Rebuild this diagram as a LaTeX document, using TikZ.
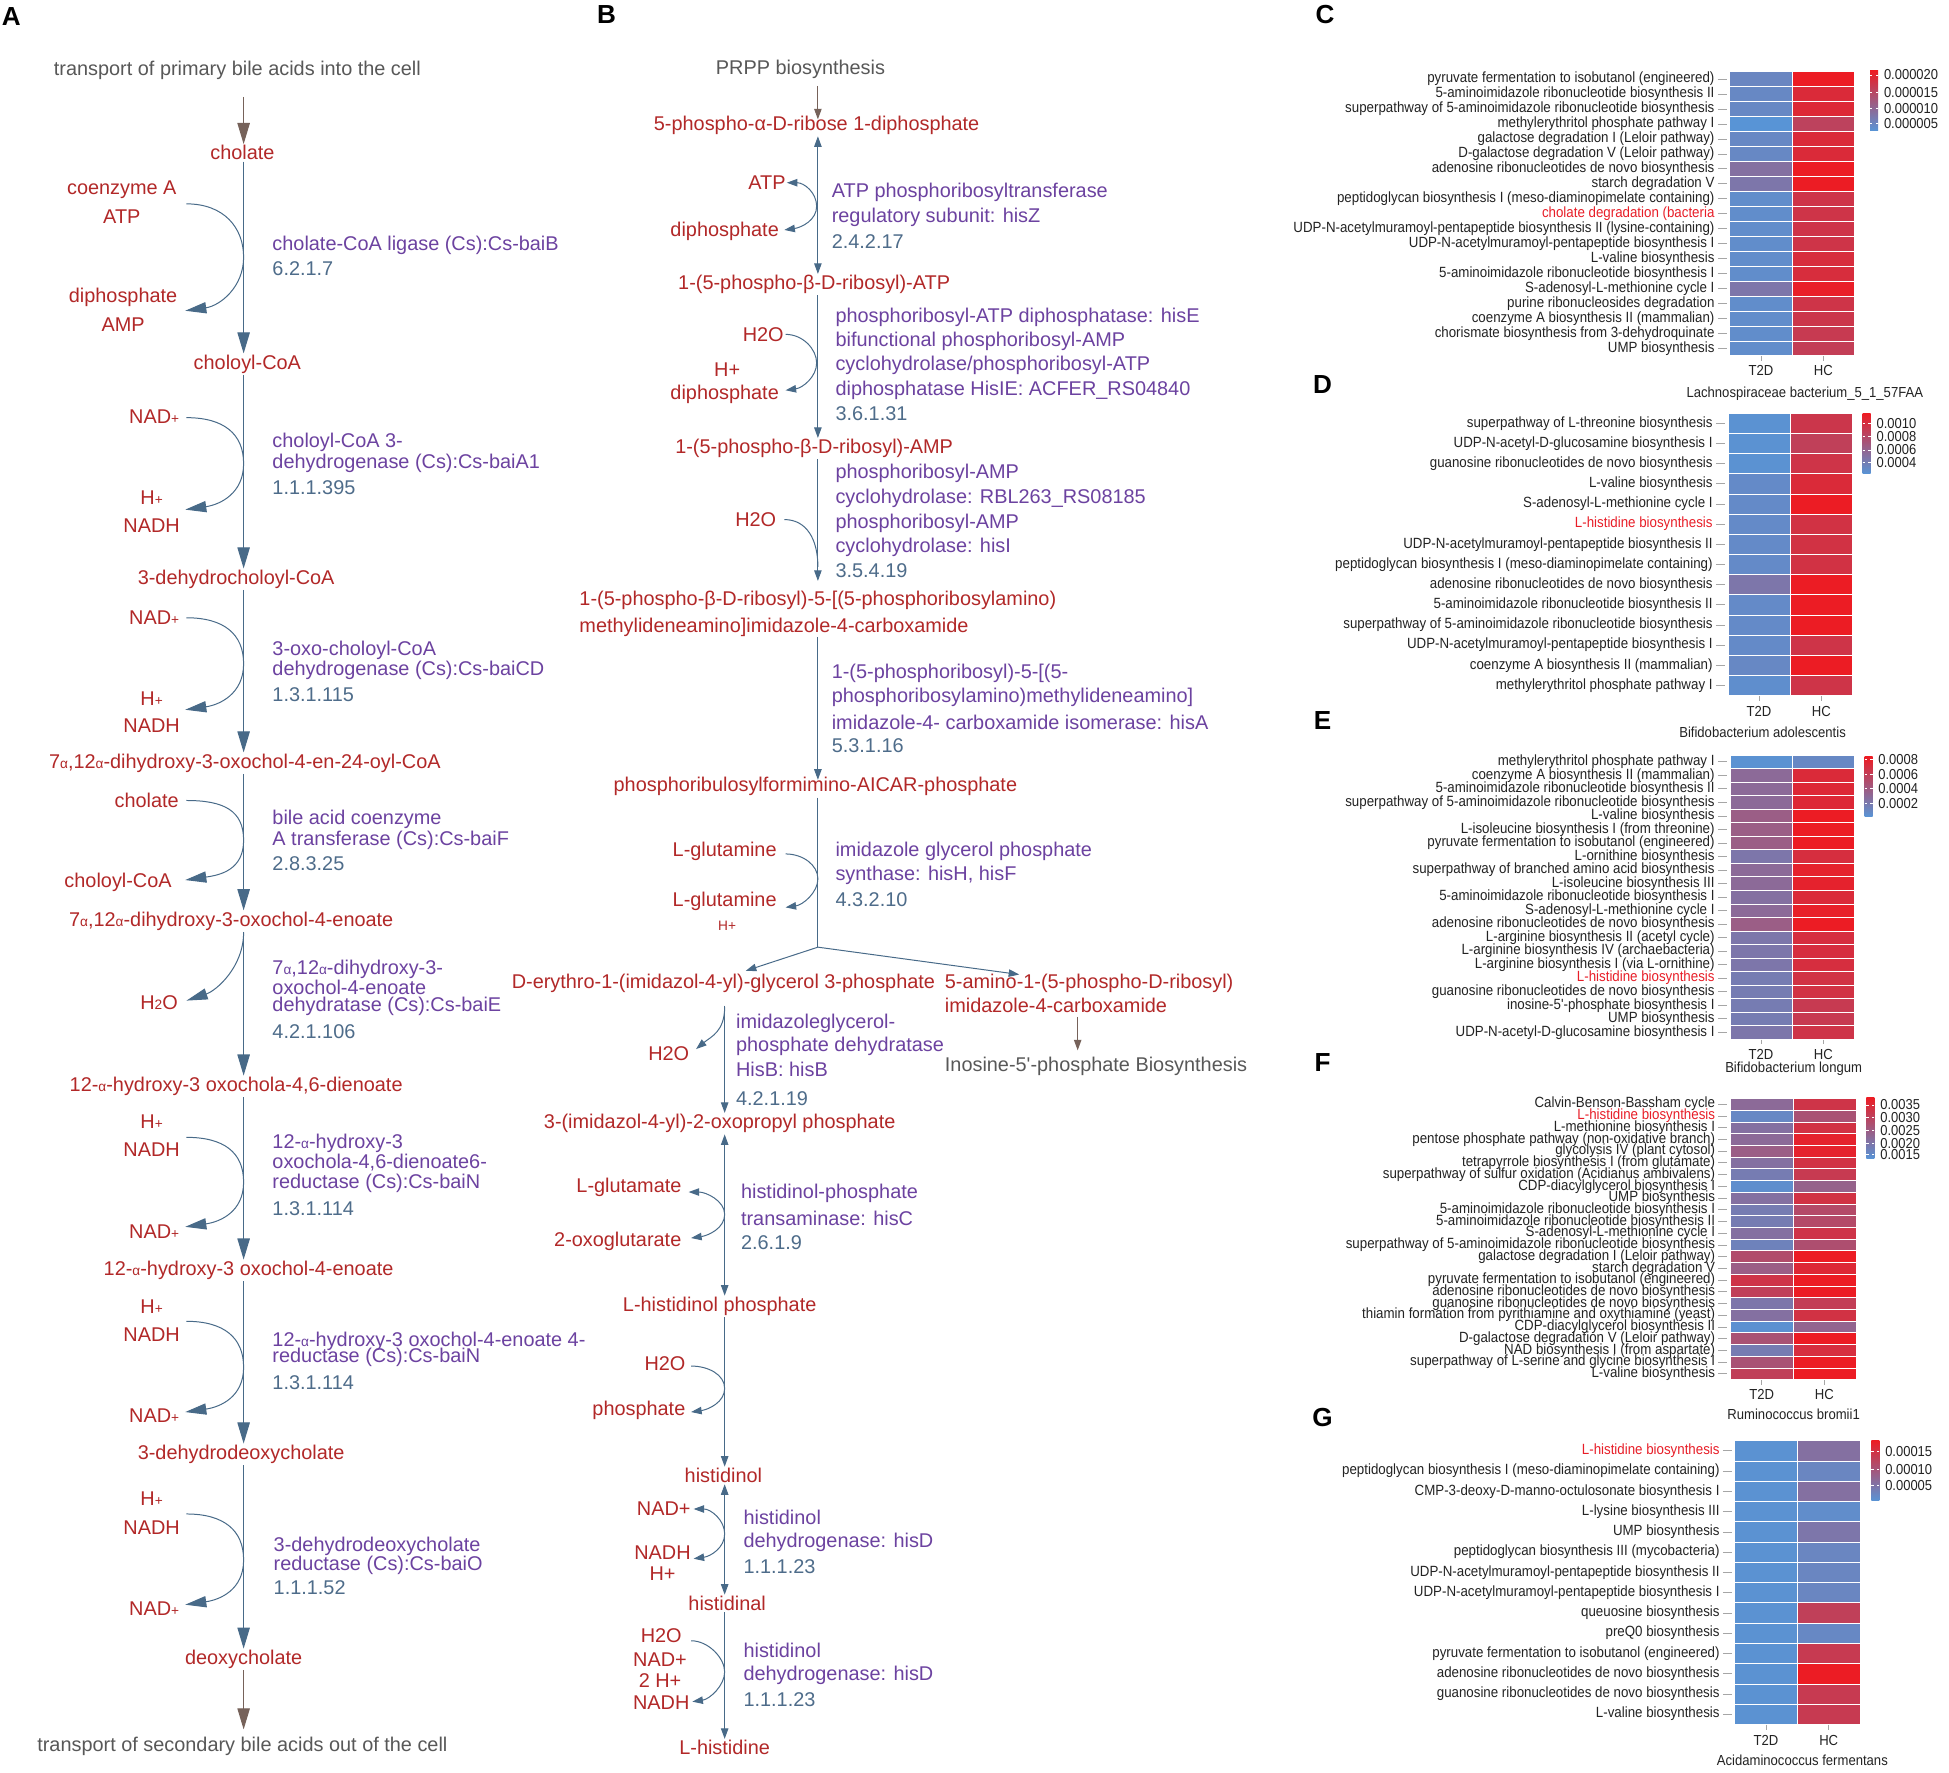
\documentclass[tikz,border=0pt]{standalone}
\usepackage{fontspec}
\setmainfont{Liberation Sans}
\newfontfamily\hmfont[FakeStretch=0.9]{Liberation Sans}
\newfontfamily\plainsans{Liberation Sans}
\usetikzlibrary{arrows.meta}
\definecolor{cred}{RGB}{178,40,40}
\definecolor{cpur}{RGB}{108,66,160}
\definecolor{cec}{RGB}{78,108,138}
\definecolor{cgray}{RGB}{88,88,88}
\definecolor{cline}{RGB}{72,106,136}
\definecolor{cbrown}{RGB}{118,98,90}
\definecolor{hb}{RGB}{88,148,214}
\definecolor{hr}{RGB}{236,28,36}
\definecolor{hmt}{RGB}{35,35,35}
\definecolor{hmr}{RGB}{232,30,40}
\newcommand{\fsz}[1]{\fontsize{#1}{#1}\selectfont}
\newcommand{\smtxt}[1]{{\fontsize{11}{11}\selectfont #1}}
\tikzset{
  met/.style={text=cred, font=\fsz{16}, inner sep=1pt},
  metw/.style={text=cred, font=\fsz{16}, inner sep=0pt, anchor=west},
  gtx/.style={text=cgray, font=\fsz{16}, inner sep=1pt},
  enz/.style={text=cpur, font=\fsz{16}, anchor=west, inner sep=0pt},
  ecn/.style={text=cec, font=\fsz{16}, anchor=west, inner sep=0pt},
  plab/.style={font=\fsz{21}\bfseries, inner sep=0pt},
  marr/.style={draw=cline, line width=0.9pt, -{Triangle[length=17pt,width=10pt]}},
  brarr/.style={draw=cbrown, line width=0.9pt, -{Triangle[length=17pt,width=10pt]}},
  sarc/.style={draw=cline, line width=0.8pt, -{Triangle[length=17pt,width=9pt]}},
  barr/.style={draw=cline, line width=0.8pt, -{Triangle[length=8.5pt,width=6pt]}},
  barr2/.style={draw=cline, line width=0.8pt, {Triangle[length=8.5pt,width=6pt]}-{Triangle[length=8.5pt,width=6pt]}},
  bline/.style={draw=cline, line width=0.8pt},
  bbrarr/.style={draw=cbrown, line width=0.8pt, -{Triangle[length=8.5pt,width=6pt]}},
  hml/.style={font=\hmfont\fsz{11.9}, anchor=east, inner sep=0pt},
  hlg/.style={font=\hmfont\fsz{11.6}, text=hmt, anchor=west, inner sep=0pt},
  hcl/.style={font=\hmfont\fsz{11.7}, text=hmt, inner sep=0pt},
  tickc/.style={draw=black!35, line width=0.5pt}
}
\newcommand{\arcA}[4]{\coordinate (#1s) at (#2); \coordinate (#1m) at (#3); \coordinate (#1e) at (#4);
  \draw[sarc] (#1s) .. controls +(30,0) and +(0,-24) .. (#1m) .. controls +(0,24) and +(28,-4) .. (#1e);}
\newcommand{\arcB}[5]{\coordinate (#1s) at (#2); \coordinate (#1m) at (#3); \coordinate (#1e) at (#4);
  \draw[#5] (#1s) .. controls +(14,0) and +(0,-11) .. (#1m) .. controls +(0,11) and +(14,-2) .. (#1e);}
\newcommand{\hmap}[6]{%
  \foreach \lab/\va/\vb/\lc [count=\i] in {#6} {
    \pgfmathsetmacro{\yt}{#3+(\i-1)*#4}
    \pgfmathsetmacro{\ym}{#3+(\i-0.5)*#4}
    \filldraw[fill=hr!\va!hb, draw=white, line width=0.4pt] (#2,\yt) rectangle ++(#5,#4);
    \filldraw[fill=hr!\vb!hb, draw=white, line width=0.4pt] ({#2+#5},\yt) rectangle ++(#5,#4);
    \draw[tickc] ({#2-9.5},\ym) -- ({#2-2.5},\ym);
    \node[hml, text=\lc] (#1l\i) at ({#2-12},\ym) {\lab};
  }%
}
\newcommand{\hleg}[5]{%
  \shade[bottom color=hb, top color=hr] (#2,#3) rectangle ({#2+6.5},#4);
  \foreach \lv/\ly [count=\j] in {#5} {
    \draw[white, line width=0.7pt] (#2,\ly) -- ++(1.8,0);
    \draw[white, line width=0.7pt] ({#2+6.5},\ly) -- ++(-1.8,0);
    \node[hlg] (#1g\j) at ({#2+11},\ly) {\lv};
  }%
}
\newcommand{\hcols}[6]{%
  \draw[tickc] ({#2+#4/2},{#3+0.5}) -- ++(0,4);
  \draw[tickc] ({#2+1.5*#4},{#3+0.5}) -- ++(0,4);
  \node[hcl] (#1t) at ({#2+#4/2},#5) {T2D};
  \node[hcl] (#1h) at ({#2+1.5*#4},#5) {HC};
}
\begin{document}
\begin{tikzpicture}[x=1pt,y=-1pt]
\fill[white] (0,0) rectangle (1568,1426);
\useasboundingbox (0,0) rectangle (1568,1426);
% ---------------- Panel labels
\node[plab] (labA) at (9,13) {A};
\node[plab] (labB) at (488,12) {B};
\node[plab] (labC) at (1066,12) {C};
\node[plab] (labD) at (1064,309) {D};
\node[plab] (labE) at (1064,580) {E};
\node[plab] (labF) at (1064,855) {F};
\node[plab] (labG) at (1064,1140) {G};
% ---------------- Panel A
\coordinate (xA) at (196,0);
\node[gtx] (tA1) at (191,57) {transport of primary bile acids into the cell};
\node[met] (a0) at (195,123) {cholate};
\node[met] (a1) at (199,293) {choloyl-CoA};
\node[met] (a2) at (190,466) {3-dehydrocholoyl-CoA};
\node[met] (a3) at (197,614) {7\smtxt{α},12\smtxt{α}-dihydroxy-3-oxochol-4-en-24-oyl-CoA};
\node[met] (a4) at (186,741) {7\smtxt{α},12\smtxt{α}-dihydroxy-3-oxochol-4-enoate};
\node[met] (a5) at (190,874) {12-\smtxt{α}-hydroxy-3 oxochola-4,6-dienoate};
\node[met] (a6) at (200,1022) {12-\smtxt{α}-hydroxy-3 oxochol-4-enoate};
\node[met] (a7) at (194,1170) {3-dehydrodeoxycholate};
\node[met] (a8) at (196,1335) {deoxycholate};
\node[gtx] (tA2) at (195,1405) {transport of secondary bile acids out of the cell};
\coordinate (bA1) at (196,78);
\draw[brarr] (bA1) -- (a0.north -| xA);
\draw[brarr, shorten >=5pt] (a8.south -| xA) -- (tA2.north -| xA);
\foreach \p/\q in {a0/a1,a1/a2,a2/a3,a3/a4,a4/a5,a5/a6,a6/a7,a7/a8}
  \draw[marr] (\p.south -| xA) -- (\q.north -| xA);
% side metabolites
\node[met] (s1a) at (98,153) {coenzyme A};
\node[met] (s1b) at (98,174) {ATP};
\node[met] (s1c) at (99,239) {diphosphate};
\node[met] (s1d) at (99,261) {AMP};
\node[met] (s2a) at (124,335) {NAD\smtxt{+}};
\node[met] (s2b) at (122,400) {H\smtxt{+}};
\node[met] (s2c) at (122,423) {NADH};
\node[met] (s3a) at (124,497) {NAD\smtxt{+}};
\node[met] (s3b) at (122,562) {H\smtxt{+}};
\node[met] (s3c) at (122,584) {NADH};
\node[met] (s4a) at (118,644) {cholate};
\node[met] (s4b) at (95,710) {choloyl-CoA};
\node[met] (s5a) at (128,807) {H\smtxt{2}O};
\node[met] (s6a) at (122,902) {H\smtxt{+}};
\node[met] (s6b) at (122,925) {NADH};
\node[met] (s6c) at (124,991) {NAD\smtxt{+}};
\node[met] (s7a) at (122,1051) {H\smtxt{+}};
\node[met] (s7b) at (122,1074) {NADH};
\node[met] (s7c) at (124,1139) {NAD\smtxt{+}};
\node[met] (s8a) at (122,1206) {H\smtxt{+}};
\node[met] (s8b) at (122,1229) {NADH};
\node[met] (s8c) at (124,1294) {NAD\smtxt{+}};
\arcA{c1}{150,164}{196,207}{149,250}
\arcA{c2}{150,336}{196,373}{149,410}
\arcA{c3}{150,497}{196,534}{149,571}
\arcA{c4}{150,644}{196,676}{149,708}
\coordinate (c5s) at (196,750); \coordinate (c5e) at (150,805);
\draw[sarc] (c5s) .. controls +(0,28) and +(24,-8) .. (c5e);
\arcA{c6}{150,915}{196,951}{149,987}
\arcA{c7}{150,1063}{196,1100}{149,1136}
\arcA{c8}{150,1218}{196,1255}{149,1291}
% enzymes A
\node[enz] (e1a) at (219,197) {cholate-CoA ligase (Cs):Cs-baiB};
\node[ecn] (e1b) at (219,216) {6.2.1.7};
\node[enz] (e2a) at (219,356) {choloyl-CoA 3-};
\node[enz] (e2b) at (219,373) {dehydrogenase (Cs):Cs-baiA1};
\node[ecn] (e2c) at (219,392) {1.1.1.395};
\node[enz] (e3a) at (219,523) {3-oxo-choloyl-CoA};
\node[enz] (e3b) at (219,539) {dehydrogenase (Cs):Cs-baiCD};
\node[ecn] (e3c) at (219,559) {1.3.1.115};
\node[enz] (e4a) at (219,659) {bile acid coenzyme};
\node[enz] (e4b) at (219,676) {A transferase (Cs):Cs-baiF};
\node[ecn] (e4c) at (219,695) {2.8.3.25};
\node[enz] (e5a) at (219,780) {7\smtxt{α},12\smtxt{α}-dihydroxy-3-};
\node[enz] (e5b) at (219,794) {oxochol-4-enoate};
\node[enz] (e5c) at (219,810) {dehydratase (Cs):Cs-baiE};
\node[ecn] (e5d) at (219,830) {4.2.1.106};
\node[enz] (e6a) at (219,920) {12-\smtxt{α}-hydroxy-3};
\node[enz] (e6b) at (219,935) {oxochola-4,6-dienoate6-};
\node[enz] (e6c) at (219,952) {reductase (Cs):Cs-baiN};
\node[ecn] (e6d) at (219,972) {1.3.1.114};
\node[enz] (e7a) at (219,1079) {12-\smtxt{α}-hydroxy-3 oxochol-4-enoate 4-};
\node[enz] (e7b) at (219,1092) {reductase (Cs):Cs-baiN};
\node[ecn] (e7c) at (219,1112) {1.3.1.114};
\node[enz] (e8a) at (220,1244) {3-dehydrodeoxycholate};
\node[enz] (e8b) at (220,1259) {reductase (Cs):Cs-baiO};
\node[ecn] (e8c) at (220,1277) {1.1.1.52};
% ---------------- Panel B
\coordinate (xB) at (658,0);
\coordinate (xB2) at (583,0);
\node[gtx] (prpp) at (644,56) {PRPP biosynthesis};
\node[met] (n1) at (657,101) {5-phospho-α-D-ribose 1-diphosphate};
\node[met] (n2) at (655,229) {1-(5-phospho-β-D-ribosyl)-ATP};
\node[met] (n3) at (655,361) {1-(5-phospho-β-D-ribosyl)-AMP};
\node[metw] (n4a) at (466,483) {1-(5-phospho-β-D-ribosyl)-5-[(5-phosphoribosylamino)};
\node[metw] (n4b) at (466,505) {methylideneamino]imidazole-4-carboxamide};
\node[met] (n5) at (656,633) {phosphoribulosylformimino-AICAR-phosphate};
\node[met] (n6) at (582,791) {D-erythro-1-(imidazol-4-yl)-glycerol 3-phosphate};
\node[metw] (n7a) at (760,791) {5-amino-1-(5-phospho-D-ribosyl)};
\node[metw] (n7b) at (760,809) {imidazole-4-carboxamide};
\node[gtx, anchor=west, inner sep=0pt] (imp) at (760,858) {Inosine-5{\plainsans'}-phosphate Biosynthesis};
\node[met] (n8) at (579,904) {3-(imidazol-4-yl)-2-oxopropyl phosphate};
\node[met] (n9) at (579,1051) {L-histidinol phosphate};
\node[met] (n10) at (582,1187) {histidinol};
\node[met] (n11) at (585,1290) {histidinal};
\node[met] (n12) at (583,1406) {L-histidine};
% B main arrows
\coordinate (bB1) at (658,69); \coordinate (bB2) at (658,96);
\draw[bbrarr] (bB1) -- (bB2);
\draw[barr2] (n1.south -| xB) -- (n2.north -| xB);
\draw[barr] (n2.south -| xB) -- (n3.north -| xB);
\draw[barr, shorten >=8pt] (n3.south -| xB) -- (n4a.north -| xB);
\draw[barr, shorten >=-3pt] (n4b.south -| xB) -- (n5.north -| xB);
\coordinate (brB) at (658,762); \coordinate (brL) at (600,781); \coordinate (brR) at (820,784);
\draw[bline] (n5.south -| xB) -- (brB);
\draw[barr] (brB) -- (brL);
\draw[barr] (brB) -- (brR);
\coordinate (imA) at (867,818); \coordinate (imB) at (867,845);
\draw[bbrarr] (imA) -- (imB);
\coordinate (n6b) at (583,809);
\draw[barr] (n6b) -- (n8.north -| xB2);
\draw[barr2] (n8.south -| xB2) -- (n9.north -| xB2);
\draw[barr] (n9.south -| xB2) -- (n10.north -| xB2);
\draw[barr2] (n10.south -| xB2) -- (n11.north -| xB2);
\draw[barr] (n11.south -| xB2) -- (n12.north -| xB2);
% B side metabolites
\node[met] (b1a) at (617,147) {ATP};
\node[met] (b1b) at (583,186) {diphosphate};
\node[met] (b2a) at (614,269) {H2O};
\node[met] (b2b) at (585,297) {H+};
\node[met] (b2c) at (583,317) {diphosphate};
\node[met] (b3a) at (608,418) {H2O};
\node[met] (b5a) at (583,685) {L-glutamine};
\node[met] (b5b) at (583,725) {L-glutamine};
\node[met, font=\fsz{11}] (b5c) at (585,745) {H+};
\node[met] (b6a) at (538,848) {H2O};
\node[met] (b8a) at (506,955) {L-glutamate};
\node[met] (b8b) at (497,999) {2-oxoglutarate};
\node[met] (b9a) at (535,1097) {H2O};
\node[met] (b9b) at (514,1135) {phosphate};
\node[met] (b10a) at (534,1214) {NAD+};
\node[met] (b10b) at (533,1249) {NADH};
\node[met] (b10c) at (533,1266) {H+};
\node[met] (b11a) at (532,1316) {H2O};
\node[met] (b11b) at (531,1335) {NAD+};
\node[met] (b11c) at (531,1352) {2 H+};
\node[met] (b11d) at (532,1370) {NADH};
% B side arcs
\arcB{d1}{633,147}{657,166}{631,185}{barr2}
\arcB{d2}{632,269}{657,292}{632,314}{barr}
\coordinate (d3s) at (631,418); \coordinate (d3e) at (658,456);
\draw[bline] (d3s) .. controls +(18,0) and +(0,-22) .. (d3e);
\arcB{d4}{632,687}{658,707}{632,730}{barr}
\coordinate (d5s) at (583,810); \coordinate (d5e) at (560,844);
\draw[barr] (d5s) .. controls +(0,20) and +(12,-10) .. (d5e);
\arcB{d6}{554,959}{583,977}{556,996}{barr2}
\arcB{d7}{556,1099}{583,1117}{556,1136}{barr}
\arcB{d8}{558,1214}{583,1234}{558,1254}{barr2}
\arcB{d9}{556,1320}{583,1345}{557,1369}{barr}
% B enzymes
\node[enz] (f1a) at (669,155) {ATP phosphoribosyltransferase};
\node[enz] (f1b) at (669,175) {regulatory subunit: hisZ};
\node[ecn] (f1c) at (669,194) {2.4.2.17};
\node[enz] (f2a) at (672,255) {phosphoribosyl-ATP diphosphatase: hisE};
\node[enz] (f2b) at (672,275) {bifunctional phosphoribosyl-AMP};
\node[enz] (f2c) at (672,294) {cyclohydrolase/phosphoribosyl-ATP};
\node[enz] (f2d) at (672,314) {diphosphatase HisIE: ACFER\_RS04840};
\node[ecn] (f2e) at (672,333) {3.6.1.31};
\node[enz] (f3a) at (672,381) {phosphoribosyl-AMP};
\node[enz] (f3b) at (672,401) {cyclohydrolase: RBL263\_RS08185};
\node[enz] (f3c) at (672,421) {phosphoribosyl-AMP};
\node[enz] (f3d) at (672,440) {cyclohydrolase: hisI};
\node[ecn] (f3e) at (672,459) {3.5.4.19};
\node[enz] (f4a) at (669,542) {1-(5-phosphoribosyl)-5-[(5-};
\node[enz] (f4b) at (669,561) {phosphoribosylamino)methylideneamino]};
\node[enz] (f4c) at (669,581) {imidazole-4- carboxamide isomerase: hisA};
\node[ecn] (f4d) at (669,600) {5.3.1.16};
\node[enz] (f5a) at (672,685) {imidazole glycerol phosphate};
\node[enz] (f5b) at (672,704) {synthase: hisH, hisF};
\node[ecn] (f5c) at (672,724) {4.3.2.10};
\node[enz] (f6a) at (592,823) {imidazoleglycerol-};
\node[enz] (f6b) at (592,842) {phosphate dehydratase};
\node[enz] (f6c) at (592,860) {HisB: hisB};
\node[ecn] (f6d) at (592,884) {4.2.1.19};
\node[enz] (f8a) at (596,960) {histidinol-phosphate};
\node[enz] (f8b) at (596,980) {transaminase: hisC};
\node[ecn] (f8c) at (596,1000) {2.6.1.9};
\node[enz] (f10a) at (598,1221) {histidinol};
\node[enz] (f10b) at (598,1241) {dehydrogenase: hisD};
\node[ecn] (f10c) at (598,1260) {1.1.1.23};
\node[enz] (f11a) at (598,1328) {histidinol};
\node[enz] (f11b) at (598,1348) {dehydrogenase: hisD};
\node[ecn] (f11c) at (598,1367) {1.1.1.23};
% ---------------- Panel C
\hmap{C}{1391.5}{57.6}{12.03}{50.3}{
{pyruvate fermentation to isobutanol (engineered)}/12/100/hmt,
{5-aminoimidazole ribonucleotide biosynthesis II}/10/88/hmt,
{superpathway of 5-aminoimidazole ribonucleotide biosynthesis}/10/90/hmt,
{methylerythritol phosphate pathway I}/0/68/hmt,
{galactose degradation I (Leloir pathway)}/10/88/hmt,
{D-galactose degradation V (Leloir pathway)}/10/88/hmt,
{adenosine ribonucleotides de novo biosynthesis}/30/100/hmt,
{starch degradation V}/25/100/hmt,
{peptidoglycan biosynthesis I (meso-diaminopimelate containing)}/6/80/hmt,
{cholate degradation (bacteria}/6/80/hmr,
{UDP-N-acetylmuramoyl-pentapeptide biosynthesis II (lysine-containing)}/6/80/hmt,
{UDP-N-acetylmuramoyl-pentapeptide biosynthesis I}/6/80/hmt,
{L-valine biosynthesis}/6/86/hmt,
{5-aminoimidazole ribonucleotide biosynthesis I}/6/86/hmt,
{S-adenosyl-L-methionine cycle I}/25/98/hmt,
{purine ribonucleosides degradation}/6/80/hmt,
{coenzyme A biosynthesis II (mammalian)}/6/78/hmt,
{chorismate biosynthesis from 3-dehydroquinate}/6/75/hmt,
{UMP biosynthesis}/6/72/hmt}
\hcols{C}{1391.5}{286.2}{50.3}{298}{}
\node[hcl] (Ctitle) at (1452,317) {Lachnospiraceae bacterium\_5\_1\_57FAA};
\hleg{C}{1504.5}{57}{105}{0.000020/60.3,0.000015/74.2,0.000010/87.1,0.000005/99.7}
% ---------------- Panel D
\hmap{D}{1390}{332.4}{16.22}{50.2}{
{superpathway of L-threonine biosynthesis}/2/78/hmt,
{UDP-N-acetyl-D-glucosamine biosynthesis I}/2/70/hmt,
{guanosine ribonucleotides de novo biosynthesis}/2/80/hmt,
{L-valine biosynthesis}/8/88/hmt,
{S-adenosyl-L-methionine cycle I}/8/100/hmt,
{L-histidine biosynthesis}/8/82/hmr,
{UDP-N-acetylmuramoyl-pentapeptide biosynthesis II\hspace{3pt}}/8/82/hmt,
{peptidoglycan biosynthesis I (meso-diaminopimelate containing)}/8/82/hmt,
{adenosine ribonucleotides de novo biosynthesis}/25/100/hmt,
{5-aminoimidazole ribonucleotide biosynthesis II}/8/100/hmt,
{superpathway of 5-aminoimidazole ribonucleotide biosynthesis}/8/100/hmt,
{UDP-N-acetylmuramoyl-pentapeptide biosynthesis I\hspace{3pt}}/8/80/hmt,
{coenzyme A biosynthesis II (mammalian)}/10/100/hmt,
{methylerythritol phosphate pathway I}/5/80/hmt}
\hcols{D}{1390}{559.5}{50.2}{572}{}
\node[hcl] (Dtitle) at (1418,589) {Bifidobacterium adolescentis};
\hleg{D}{1498.5}{333}{381}{0.0010/340.5,0.0008/351.3,0.0006/362,0.0004/372}
% ---------------- Panel E
\hmap{E}{1391.6}{607.4}{10.88}{50.2}{
{methylerythritol phosphate pathway I}/2/10/hmt,
{coenzyme A biosynthesis II (mammalian)}/35/88/hmt,
{5-aminoimidazole ribonucleotide biosynthesis II}/35/90/hmt,
{superpathway of 5-aminoimidazole ribonucleotide biosynthesis}/35/90/hmt,
{L-valine biosynthesis}/45/100/hmt,
{L-isoleucine biosynthesis I (from threonine)}/45/100/hmt,
{pyruvate fermentation to isobutanol (engineered)}/45/100/hmt,
{L-ornithine biosynthesis}/25/85/hmt,
{superpathway of branched amino acid biosynthesis}/35/95/hmt,
{L-isoleucine biosynthesis III}/35/95/hmt,
{5-aminoimidazole ribonucleotide biosynthesis I}/30/88/hmt,
{S-adenosyl-L-methionine cycle I}/35/97/hmt,
{adenosine ribonucleotides de novo biosynthesis}/45/100/hmt,
{L-arginine biosynthesis II (acetyl cycle)}/25/85/hmt,
{L-arginine biosynthesis IV (archaebacteria)}/25/85/hmt,
{L-arginine biosynthesis I (via L-ornithine)}/25/85/hmt,
{L-histidine biosynthesis}/20/82/hmr,
{guanosine ribonucleotides de novo biosynthesis}/20/82/hmt,
{inosine-5'-phosphate biosynthesis I}/20/75/hmt,
{UMP biosynthesis}/20/75/hmt,
{UDP-N-acetyl-D-glucosamine biosynthesis I}/25/80/hmt}
\hcols{E}{1391.6}{835.8}{50.2}{848}{}
\node[hcl] (Etitle) at (1443,860) {Bifidobacterium longum};
\hleg{E}{1500}{609}{657}{0.0008/611,0.0006/623,0.0004/634.6,0.0002/646.5}
% ---------------- Panel F
\hmap{F}{1392}{883.6}{9.43}{50.5}{
{Calvin-Benson-Bassham cycle}/35/80/hmt,
{L-histidine biosynthesis}/10/55/hmr,
{L-methionine biosynthesis I}/30/82/hmt,
{pentose phosphate pathway (non-oxidative branch)}/35/95/hmt,
{glycolysis IV (plant cytosol)}/45/95/hmt,
{tetrapyrrole biosynthesis I (from glutamate)}/30/82/hmt,
{superpathway of sulfur oxidation (Acidianus ambivalens)}/20/75/hmt,
{CDP-diacylglycerol biosynthesis I}/5/42/hmt,
{UMP biosynthesis}/30/82/hmt,
{5-aminoimidazole ribonucleotide biosynthesis I}/20/62/hmt,
{5-aminoimidazole ribonucleotide biosynthesis II}/20/62/hmt,
{S-adenosyl-L-methionine cycle I}/30/80/hmt,
{superpathway of 5-aminoimidazole ribonucleotide biosynthesis}/15/58/hmt,
{galactose degradation I (Leloir pathway)}/60/100/hmt,
{starch degradation V}/45/90/hmt,
{pyruvate fermentation to isobutanol (engineered)}/80/100/hmt,
{adenosine ribonucleotides de novo biosynthesis}/70/100/hmt,
{guanosine ribonucleotides de novo biosynthesis}/25/72/hmt,
{thiamin formation from pyrithiamine and oxythiamine (yeast)}/30/82/hmt,
{CDP-diacylglycerol biosynthesis II}/3/40/hmt,
{D-galactose degradation V (Leloir pathway)}/55/100/hmt,
{NAD biosynthesis I (from aspartate)}/20/85/hmt,
{superpathway of L-serine and glycine biosynthesis I}/55/100/hmt,
{L-valine biosynthesis}/70/100/hmt}
\hcols{F}{1392}{1110}{50.5}{1122}{}
\node[hcl] (Ftitle) at (1443,1138) {Ruminococcus bromii1};
\hleg{F}{1501.5}{883}{932}{0.0035/889,0.0030/899,0.0025/909.6,0.0020/919.8,0.0015/929}
% ---------------- Panel G
\hmap{G}{1395.6}{1159}{16.3}{50.4}{
{L-histidine biosynthesis}/2/30/hmr,
{peptidoglycan biosynthesis I (meso-diaminopimelate containing)}/2/12/hmt,
{CMP-3-deoxy-D-manno-octulosonate biosynthesis I}/2/30/hmt,
{L-lysine biosynthesis III}/2/6/hmt,
{UMP biosynthesis}/2/25/hmt,
{peptidoglycan biosynthesis III (mycobacteria)}/2/12/hmt,
{UDP-N-acetylmuramoyl-pentapeptide biosynthesis II\hspace{4pt}}/2/12/hmt,
{UDP-N-acetylmuramoyl-pentapeptide biosynthesis I\hspace{4pt}}/2/12/hmt,
{queuosine biosynthesis}/2/70/hmt,
{preQ0 biosynthesis}/2/10/hmt,
{pyruvate fermentation to isobutanol (engineered)}/2/75/hmt,
{adenosine ribonucleotides de novo biosynthesis}/2/100/hmt,
{guanosine ribonucleotides de novo biosynthesis}/2/75/hmt,
{L-valine biosynthesis}/2/75/hmt}
\hcols{G}{1395.6}{1387}{50.4}{1400}{}
\node[hcl] (Gtitle) at (1450,1416) {Acidaminococcus fermentans};
\hleg{G}{1505.5}{1159}{1207.5}{0.00015/1168,0.00010/1182,0.00005/1195}
\end{tikzpicture}
\end{document}
